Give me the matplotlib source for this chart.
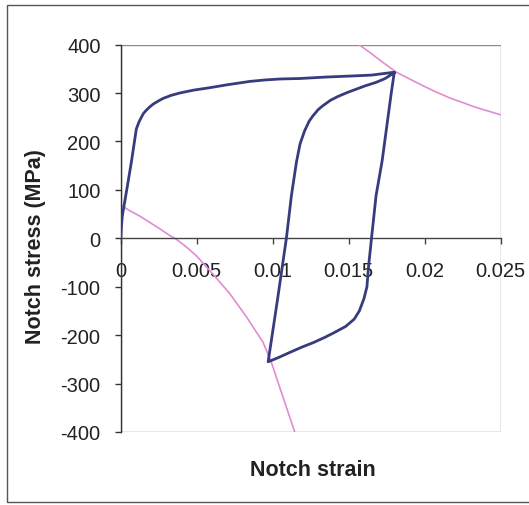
import matplotlib
matplotlib.use("Agg")
import matplotlib.pyplot as plt
from matplotlib.patches import Rectangle

plt.rcParams['font.family'] = ['Liberation Sans', 'DejaVu Sans']
plt.rcParams['axes.unicode_minus'] = False

# Hysteresis loop: initial loading, unloading, reloading (strain, stress in MPa)
loop_strain = [0.0, 0.00005, 0.00011, 0.00037, 0.0007, 0.00103, 0.0012, 0.00136,
               0.0015, 0.0017, 0.0019, 0.00213, 0.0025, 0.0028, 0.0033, 0.00388,
               0.0048, 0.00586, 0.007, 0.0085, 0.0095, 0.0105, 0.0118, 0.0135,
               0.01507, 0.0165, 0.0180,
               0.0178, 0.0175, 0.0172, 0.0168, 0.0165, 0.0163, 0.0162, 0.0160,
               0.0157, 0.01536, 0.0148, 0.01403, 0.0134, 0.0127, 0.0119, 0.0111,
               0.0104, 0.0097,
               0.0103, 0.0109, 0.01123, 0.01156, 0.0118, 0.0121, 0.0124, 0.01265,
               0.0130, 0.01331, 0.0138, 0.0143, 0.0149, 0.0155, 0.0161, 0.0168,
               0.0174, 0.0180]
loop_stress = [0, 25, 47, 95, 157, 226, 240, 250,
               258, 265, 271, 277, 284, 289, 295, 300,
               306, 311, 317, 324, 327, 329, 330, 333,
               335, 337, 343,
               300, 230, 160, 88, 0, -60, -100, -125,
               -150, -167, -182, -195, -205, -215, -225, -236,
               -246, -255,
               -130, 0, 88, 157, 195, 222, 242, 253,
               266, 274, 285, 293, 301, 308, 315, 322,
               330, 342]

# Neuber curve through the reversal point
neuber_low_strain = [0.0, 0.00059, 0.00125, 0.0019, 0.0026, 0.00322, 0.00366,
                     0.00432, 0.00498, 0.00607, 0.00717, 0.00827, 0.00937,
                     0.00991, 0.01057, 0.01145]
neuber_low_stress = [69, 57, 46, 33, 19, 6, -2,
                     -18, -36, -74, -114, -162, -215,
                     -256, -318, -400]

# Neuber curve through the peak
neuber_high_strain = [0.01572, 0.01638, 0.01726, 0.01814, 0.01901, 0.01989,
                      0.02076, 0.02164, 0.0234, 0.025]
neuber_high_stress = [399, 384, 363, 343, 329, 315, 302, 290, 270, 255]

x_ticks = [0, 0.005, 0.01, 0.015, 0.02, 0.025]
x_tick_labels = ['0', '0.005', '0.01', '0.015', '0.02', '0.025']
y_ticks = [-400, -300, -200, -100, 0, 100, 200, 300, 400]

W, H = 529, 506
fig = plt.figure(figsize=(W / 100, H / 100), dpi=100)
fig.patch.set_facecolor('white')

# chart frame
fig.patches.append(Rectangle((7 / W, 1 - 503 / H), 1.2, (503 - 6) / H,
                             transform=fig.transFigure, fill=False,
                             edgecolor='#555555', linewidth=1.0, clip_on=False))

left, right, top, bottom = 120.7, 500.7, 45.6, 433.0
ax = fig.add_axes([left / W, 1 - bottom / H, (right - left) / W, (bottom - top) / H])
ax.set_xlim(0, 0.025)
ax.set_ylim(-400, 400)

pink = '#E38BD2'
blue = '#363C7E'
ax.plot(neuber_low_strain, neuber_low_stress, color=pink, lw=1.2, zorder=2)
ax.plot(neuber_high_strain, neuber_high_stress, color=pink, lw=1.2, zorder=2)
ax.plot(loop_strain, loop_stress, color=blue, lw=2.0, zorder=3)

# plot-area border
ax.add_patch(Rectangle((0, 0), 1, 1, transform=ax.transAxes, fill=False,
                       edgecolor='#8a8a8a', linewidth=1.0, zorder=1))

for s in ['top', 'right']:
    ax.spines[s].set_visible(False)
ax.spines['left'].set_color('#333333')
ax.spines['left'].set_linewidth(1.0)
ax.spines['bottom'].set_position(('data', 0))
ax.spines['bottom'].set_color('#444444')
ax.spines['bottom'].set_linewidth(1.0)

ax.set_xticks(x_ticks)
ax.set_xticklabels(x_tick_labels)
ax.set_yticks(y_ticks)
ax.tick_params(axis='x', direction='out', length=4.5, width=1.0, color='#444444',
               labelsize=14.5, pad=12, labelcolor='#222222')
ax.tick_params(axis='y', direction='out', length=4.5, width=1.0, color='#333333',
               labelsize=14.5, pad=10, labelcolor='#222222')

fig.text(35.5 / W, 1 - 247 / H, 'Notch stress (MPa)', rotation=90, ha='center',
         va='center', fontsize=15.5, fontweight='bold', color='#222222')
fig.text(313 / W, 1 - 471 / H, 'Notch strain', ha='center', va='center',
         fontsize=15.5, fontweight='bold', color='#222222')

fig.savefig('out.png', dpi=100, facecolor='white')
